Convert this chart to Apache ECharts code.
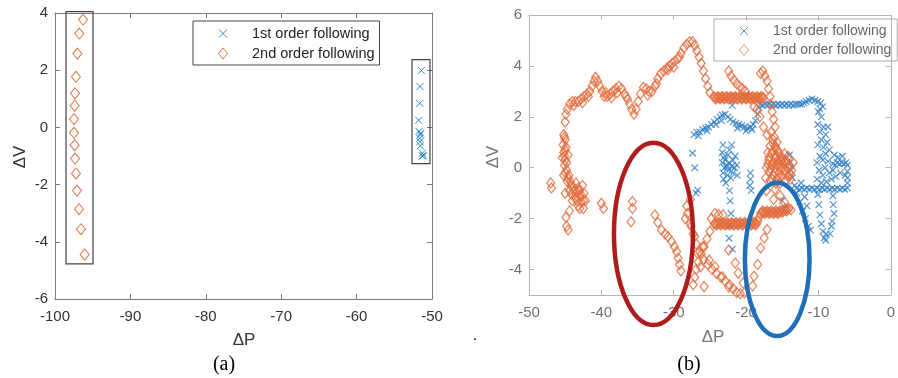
<!DOCTYPE html>
<html><head><meta charset="utf-8">
<script src="https://cdn.jsdelivr.net/npm/echarts@6/dist/echarts.min.js"></script>
<style>html,body{margin:0;padding:0;background:#fff}#c{width:898px;height:378px}</style>
</head><body><div id="c"></div>
<script>
const seriesNames = ['1st order following', '2nd order following'];
const aXTicks = [-100, -90, -80, -70, -60, -50];
const aYTicks = [-6, -4, -2, 0, 2, 4];
const bXTicks = [-50, -40, -30, -20, -10, 0];
const bYTicks = [-4, -2, 0, 2, 4, 6];

// (a) 1st order following (crosses)
const aFirst = [[-51.41,1.99],[-51.59,1.43],[-51.63,0.84],[-51.77,0.25],[-51.72,-0.14],[-51.55,-0.26],[-51.63,-0.38],[-51.5,-0.2],[-51.55,-0.64],[-51.6,-0.5],[-51.28,-0.90],[-51.15,-0.99],[-51.3,-1.0]];
// (a) 2nd order following (diamonds)
const aSecond = [[-96.29,3.77],[-96.78,3.28],[-97.04,2.58],[-97.22,1.77],[-97.35,1.19],[-97.39,0.76],[-97.48,0.29],[-97.48,-0.19],[-97.39,-0.62],[-97.35,-1.09],[-97.22,-1.61],[-97.08,-2.21],[-96.82,-2.86],[-96.55,-3.56],[-96.07,-4.44]];

// (b) 1st order following (crosses)
const bFirst = [
[-27.2,1.3],[-26.8,1.4],[-26.4,1.4],[-26.0,1.5],[-25.6,1.55],[-25.2,1.6],[-24.8,1.7],[-24.4,1.8],[-24.0,1.9],[-23.6,2.0],[-23.3,2.07],[-22.9,2.1],[-22.5,2.0],[-22.2,1.9],[-21.8,1.8],[-21.4,1.75],[-21.0,1.7],[-20.6,1.65],[-20.2,1.6],[-19.8,1.55],[-19.4,1.6],[-19.0,1.7],[-18.7,1.85],[-18.4,2.1],[-18.2,2.35],[-21.9,2.45],[-26.6,1.25],[-25.4,1.45],[-24.2,1.7],[-23.4,1.85],[-21.2,1.55],[-20.0,1.45],[-19.2,1.5],
[-18.0,2.5],[-17.7,2.45],[-17.4,2.5],[-17.1,2.45],[-16.8,2.5],[-16.5,2.45],[-16.2,2.5],[-15.9,2.45],[-15.6,2.5],[-15.3,2.45],[-15.0,2.5],[-14.7,2.45],[-14.4,2.5],[-14.1,2.45],[-13.8,2.5],[-13.5,2.45],[-13.2,2.5],[-12.9,2.5],[-12.6,2.5],[-12.3,2.5],[-12.0,2.55],
[-11.7,2.6],[-11.3,2.65],[-10.9,2.7],[-10.5,2.65],[-10.1,2.6],[-9.7,2.55],[-9.4,2.4],[-9.8,2.3],
[-10.0,2.2],[-9.6,2.0],[-10.1,1.7],[-9.3,1.6],[-9.8,1.4],[-9.0,1.3],[-9.6,1.1],[-8.8,1.0],[-10.1,0.9],[-9.3,0.8],[-8.7,1.6],[-8.5,0.7],[-9.0,0.55],[-9.8,0.45],[-10.2,0.2],[-9.4,0.3],[-8.7,0.25],[-9.1,0.0],[-9.9,-0.1],[-8.5,-0.2],[-9.4,-0.3],[-10.2,-0.45],[-8.2,-0.45],[-8.9,-0.55],[-9.6,-0.6],
[-8.0,0.15],[-7.7,0.1],[-7.4,0.2],[-7.1,0.15],[-6.8,0.2],[-6.5,0.15],[-6.2,0.2],[-6.0,0.1],
[-6.0,-0.15],[-6.0,-0.4],[-6.0,-0.6],[-6.3,-0.3],[-7.0,-0.2],[-7.6,-0.35],[-8.0,-0.1],[-7.3,0.4],[-6.7,0.45],[-7.8,0.5],
[-13.0,-0.8],[-12.65,-0.85],[-12.3,-0.8],[-11.95,-0.85],[-11.6,-0.8],[-11.25,-0.85],[-10.9,-0.8],[-10.55,-0.85],[-10.2,-0.8],[-9.85,-0.85],[-9.5,-0.8],[-9.15,-0.85],[-8.8,-0.8],[-8.45,-0.85],[-8.1,-0.8],[-7.75,-0.85],[-7.4,-0.8],[-7.05,-0.85],[-6.7,-0.8],[-6.35,-0.85],[-6.0,-0.8],
[-10.1,-1.05],[-9.95,-1.45],[-9.8,-1.85],[-9.6,-2.2],[-9.4,-2.5],[-9.2,-2.75],[-9.0,-2.85],[-8.9,-2.6],[-8.0,-1.1],[-7.95,-1.45],[-7.85,-1.8],[-8.1,-2.1],[-8.2,-2.3],[-8.4,-2.6],
[-14.0,0.5],[-13.9,0.2],[-13.8,-0.1],[-13.6,-0.4],[-13.3,-0.7],[-13.0,-1.0],[-12.6,-1.35],[-12.2,-1.7],[-11.8,-2.0],[-11.4,-2.3],[-11.1,-2.45],[-11.9,-1.15],[-11.6,-1.5],[-12.4,-0.6],
[-23.2,0.9],[-23.3,0.6],[-23.1,0.4],[-23.3,0.2],[-23.0,0.0],[-23.2,-0.2],[-23.1,-0.45],[-22.7,0.1],[-22.4,-0.1],[-22.6,-0.3],[-22.3,0.2],[-22.0,0.05],[-21.8,0.3],[-21.5,0.45],[-21.3,0.1],[-22.1,-0.4],[-21.8,-0.2],[-22.0,0.9],[-22.3,0.7],[-21.6,0.0],[-22.8,-0.6],[-22.5,0.5],[-21.2,-0.3],[-22.9,0.3],[-22.6,0.05],
[-22.3,-0.9],[-22.2,-1.3],[-22.1,-1.8],[-22.3,-2.3],[-22.35,-2.77],[-21.9,-3.2],
[-27.4,0.57],[-27.1,0.0],[-26.7,-0.88],[-26.9,-1.0],
[-19.4,-0.2],[-19.4,-0.45],[-19.5,-0.7],[-19.3,-0.9],
[-15.0,-1.3],[-14.6,-1.6]
];

// (b) 2nd order following (diamonds)
const bSecond = [
[-45.0,1.8],[-44.9,2.1],[-44.7,2.3],[-44.4,2.5],[-44.0,2.6],[-43.6,2.6],[-43.2,2.6],[-42.8,2.7],[-42.4,2.8],[-42.0,2.9],[-41.6,3.0],[-41.3,3.2],[-41.0,3.4],[-40.8,3.55],[-40.5,3.4],[-40.2,3.2],[-39.9,3.0],[-39.6,2.8],[-39.2,2.8],[-38.8,2.9],[-38.4,3.0],[-38.0,3.1],[-37.6,3.2],[-37.2,3.1],[-36.8,2.9],[-36.4,2.7],[-36.1,2.5],[-35.8,2.3],[-35.5,2.1],[-35.2,2.3],[-34.9,2.6],[-34.6,2.9],[-34.2,3.15],[-33.8,3.1],[-33.4,3.0],[-33.0,3.0],[-32.6,3.2],[-32.2,3.5],[-31.8,3.7],[-31.4,3.8],[-31.0,3.9],[-30.6,4.0],[-30.2,4.1],[-29.8,4.2],[-29.4,4.3],[-29.0,4.5],[-28.6,4.7],[-28.2,4.85],[-27.8,4.95],[-27.4,4.95],[-27.1,4.8],[-26.8,4.6],[-26.5,4.35],[-26.2,4.1],[-25.9,3.8],[-25.6,3.5],[-25.3,3.2],[-25.0,2.95],
[-43.8,2.45],[-42.6,2.55],[-41.8,2.8],[-39.4,2.95],[-38.6,2.75],[-37.8,2.95],[-36.6,2.8],[-33.6,2.85],[-32.4,3.3],[-30.8,3.85],[-30.0,3.95],[-29.2,4.35],
[-24.5,2.8],[-24.2,2.7],[-23.9,2.8],[-23.6,2.7],[-23.3,2.8],[-23.0,2.7],[-22.7,2.8],[-22.4,2.7],[-22.1,2.8],[-21.8,2.7],[-21.5,2.8],[-21.2,2.7],[-20.9,2.8],[-20.6,2.7],[-20.3,2.8],[-20.0,2.7],[-19.7,2.8],[-19.4,2.7],[-19.1,2.8],[-18.8,2.7],[-18.5,2.8],[-18.2,2.7],[-17.9,2.8],[-17.6,2.75],
[-24.35,2.75],[-24.05,2.75],[-23.75,2.75],[-23.45,2.75],[-23.15,2.75],[-22.85,2.75],[-22.55,2.75],[-22.25,2.75],[-21.95,2.75],[-21.65,2.75],[-21.35,2.75],[-21.05,2.75],[-20.75,2.75],[-20.45,2.75],[-20.15,2.75],[-19.85,2.75],[-19.55,2.75],[-19.25,2.75],[-18.95,2.75],[-18.65,2.75],[-18.35,2.75],[-18.05,2.75],[-17.75,2.75],
[-22.4,3.8],[-22.1,3.6],[-21.7,3.45],[-21.3,3.3],[-20.9,3.2],[-20.5,3.1],[-20.1,3.0],
[-18.0,3.7],[-17.7,3.8],[-17.4,3.6],[-17.1,3.4],[-16.9,3.1],[-16.7,2.8],[-16.6,2.5],[-16.4,2.2],[-16.2,1.9],[-16.0,1.6],
[-18.9,2.4],[-18.5,2.3],[-18.1,2.0],[-17.6,1.6],[-17.1,1.3],
[-16.5,1.4],[-16.1,1.2],[-15.7,1.0],[-16.3,0.95],[-15.9,0.75],[-15.5,0.6],[-16.5,0.55],[-16.1,0.4],[-15.6,0.3],[-16.9,0.3],[-16.5,0.1],[-16.0,0.0],[-15.4,0.05],[-14.9,0.15],[-14.4,0.2],[-14.0,0.1],[-13.7,-0.1],[-14.2,-0.3],[-14.7,-0.25],[-15.2,-0.35],[-15.7,-0.4],[-16.3,-0.3],[-16.8,-0.15],[-17.2,0.0],[-17.0,0.6],[-16.7,0.85],[-15.2,0.4],[-14.7,0.55],[-14.2,0.45],[-15.0,-0.05],[-15.9,-0.6],[-15.3,-0.6],[-13.5,0.2],[-13.9,-0.45],[-17.3,-0.4],[-16.7,-0.5],[-14.5,-0.5],
[-16.3,1.1],[-16.0,0.85],[-15.7,0.7],[-16.3,0.65],[-15.8,0.45],[-16.3,0.2],[-15.8,0.15],[-15.1,0.25],[-14.6,0.3],[-14.2,0.0],[-14.6,-0.1],[-15.4,-0.2],[-16.0,-0.2],[-16.6,-0.05],[-17.0,0.15],[-16.8,0.4],[-14.9,0.35],[-15.5,0.15],[-13.9,-0.25],[-16.4,-0.45],
[-16.0,-0.85],[-17.2,-0.9],[-16.2,-1.25],[-15.3,-1.1],[-14.7,-1.35],
[-18.0,-1.8],[-17.7,-1.7],[-17.4,-1.8],[-17.1,-1.7],[-16.8,-1.8],[-16.5,-1.7],[-16.2,-1.8],[-15.9,-1.7],[-15.6,-1.8],[-15.3,-1.7],[-15.0,-1.75],[-14.7,-1.65],[-14.4,-1.7],[-14.1,-1.6],[-13.8,-1.65],
[-17.85,-1.75],[-17.55,-1.75],[-17.25,-1.75],[-16.95,-1.75],[-16.65,-1.75],[-16.35,-1.75],[-16.05,-1.75],[-15.75,-1.75],[-15.45,-1.75],[-15.15,-1.7],[-14.85,-1.7],[-14.55,-1.65],[-14.25,-1.65],
[-24.4,-2.2],[-24.1,-2.25],[-23.8,-2.15],[-23.5,-2.25],[-23.2,-2.15],[-22.9,-2.25],[-22.6,-2.15],[-22.3,-2.25],[-22.0,-2.15],[-21.7,-2.25],[-21.4,-2.15],[-21.1,-2.25],[-20.8,-2.15],[-20.5,-2.25],[-20.2,-2.15],[-19.9,-2.25],[-19.6,-2.15],[-19.3,-2.25],[-19.0,-2.15],[-18.7,-2.25],[-18.4,-2.1],[-18.2,-1.95],
[-24.25,-2.2],[-23.95,-2.2],[-23.65,-2.2],[-23.35,-2.2],[-23.05,-2.2],[-22.75,-2.2],[-22.45,-2.2],[-22.15,-2.2],[-21.85,-2.2],[-21.55,-2.2],[-21.25,-2.2],[-20.95,-2.2],[-20.65,-2.2],[-20.35,-2.2],[-20.05,-2.2],[-19.75,-2.2],[-19.45,-2.2],[-19.15,-2.2],[-18.85,-2.2],[-18.55,-2.2],
[-24.3,-1.8],[-23.8,-1.85],[-23.2,-1.85],[-24.8,-2.0],
[-19.1,-4.65],[-18.9,-4.26],[-18.4,-3.8],[-18.0,-3.15],[-17.5,-2.76],[-17.1,-2.43],
[-28.1,-1.8],[-27.7,-2.2],[-27.3,-2.6],[-26.9,-3.0],[-26.4,-3.3],[-25.9,-3.6],[-25.3,-3.8],[-24.7,-4.0],[-24.1,-4.15],[-23.5,-4.3],[-22.9,-4.45],[-22.3,-4.6],[-21.8,-4.75],[-21.3,-4.9],[-20.8,-4.95],
[-25.0,-2.5],[-25.4,-2.8],[-25.8,-3.1],[-26.2,-3.4],[-26.6,-3.7],[-26.9,-4.0],[-27.1,-4.3],[-27.3,-4.6],
[-27.7,-1.25],[-28.2,-1.5],[-28.4,-2.0],[-27.6,-2.3],[-27.1,-2.7],[-26.7,-3.36],[-26.3,-3.9],[-25.8,-4.67],
[-22.4,-3.23],[-21.5,-3.74],[-21.1,-4.14],[-20.4,-4.53],[-20.2,-4.92],
[-26.0,-3.1],[-25.1,-3.63],[-24.3,-3.89],[-23.3,-4.28],[-22.4,-4.68],
[-35.7,-1.33],[-35.7,-1.6],[-35.9,-2.12],
[-32.6,-1.86],[-32.2,-2.15],[-31.7,-2.45],[-31.2,-2.6],[-30.8,-2.7],[-30.3,-2.9],[-29.9,-3.1],[-29.6,-3.3],[-29.4,-3.55],[-29.2,-3.8],[-29.0,-4.05],
[-45.2,1.3],[-45.0,1.1],[-45.3,0.9],[-44.9,0.8],[-45.2,0.6],[-45.4,0.4],[-45.0,0.3],[-44.6,0.5],[-45.1,0.1],[-44.8,-0.1],[-45.2,-0.3],[-44.5,-0.3],[-44.7,-0.55],[-44.2,-0.7],[-44.4,-0.9],[-43.8,-0.9],[-43.5,-0.6],[-43.2,-0.8],[-43.6,-1.15],[-43.0,-1.1],[-42.6,-0.7],[-42.4,-1.0],[-42.8,-1.35],[-42.2,-1.3],[-43.2,-1.5],[-42.5,-1.6],[-44.0,-1.3],[-43.0,-1.6],
[-45.1,1.2],[-45.0,0.7],[-45.1,0.45],[-44.8,0.2],[-45.0,-0.2],[-44.6,-0.4],[-44.3,-0.55],[-43.9,-0.75],[-43.4,-0.95],[-43.0,-0.9],[-42.7,-1.1],[-43.4,-1.3],[-42.5,-1.3],[-44.1,-1.05],
[-47.0,-0.6],[-46.9,-0.8],[-45.0,-1.0],[-44.4,-1.7],[-44.9,-1.95],[-44.6,-2.45],[-44.8,-2.3],[-40.0,-1.4],[-39.7,-1.6]
];

// annotation shapes in data units
const aBoxes = [[[-98.54, 4.05], [-94.96, -4.77]], [[-52.65, 2.37], [-50.27, -1.27]]];
const bEllipseCenters = [[-32.8, -2.6], [-15.7, -3.6]];
const bEllipseRadii = [[5.46, 3.58], [4.47, 3.01]];

const BLUE = '#0072BD', ORANGE = '#D95319';
const ellipseColors = ['#b01c1c', '#1f6fb8'];
const crossPath = 'path://M0,0L10,10M10,0L0,10';
const crossLegend = 'path://M-1.5,-1.5M9.5,9.5M0,0L8,8M8,0L0,8';
const diamondLegend = 'path://M4.5,0L9,5.5L4.5,11L0,5.5Z';

const chart = echarts.init(document.getElementById('c'), null, {renderer: 'canvas'});

function xAx(grid, min, max, pos, show, lineC, labC) {
  return {gridIndex: grid, type: 'value', min: min, max: max, interval: 10, position: pos,
    axisLine: {show: true, onZero: false, lineStyle: {color: lineC, width: 1}},
    axisTick: {show: true, inside: true, length: 5, lineStyle: {color: lineC}},
    axisLabel: {show: show, color: labC, fontSize: 15, fontFamily: 'Liberation Sans', margin: 10},
    splitLine: {show: false}};
}
function yAx(grid, min, max, pos, show, lineC, labC, custom) {
  const ax = {gridIndex: grid, type: 'value', min: min, max: max, position: pos,
    axisLine: {show: true, onZero: false, lineStyle: {color: lineC, width: 1}},
    axisTick: {show: true, inside: true, length: 5, lineStyle: {color: lineC}},
    axisLabel: {show: show, color: labC, fontSize: 15, fontFamily: 'Liberation Sans', margin: 7},
    splitLine: {show: false}};
  if (custom) { ax.axisLabel.customValues = custom; ax.axisTick.customValues = custom; }
  else { ax.interval = 2; }
  return ax;
}

const aLine = '#7a7a7a', aLab = '#333';
const bLine = '#b5b5b5', bLab = '#707070';

const option = {
  animation: false,
  backgroundColor: '#fff',
  grid: [
    {left: 55, top: 13, width: 377, height: 286},
    {left: 529, top: 15, width: 367, height: 280}
  ],
  xAxis: [
    xAx(0, aXTicks[0], aXTicks[aXTicks.length - 1], 'bottom', true, aLine, aLab),
    xAx(0, aXTicks[0], aXTicks[aXTicks.length - 1], 'top', false, aLine, aLab),
    xAx(1, bXTicks[0], bXTicks[bXTicks.length - 1], 'bottom', true, bLine, bLab),
    xAx(1, bXTicks[0], bXTicks[bXTicks.length - 1], 'top', false, bLine, bLab)
  ],
  yAxis: [
    yAx(0, aYTicks[0], aYTicks[aYTicks.length - 1], 'left', true, aLine, aLab),
    yAx(0, aYTicks[0], aYTicks[aYTicks.length - 1], 'right', false, aLine, aLab),
    yAx(1, -5, 6, 'left', true, bLine, bLab, bYTicks),
    yAx(1, -5, 6, 'right', false, bLine, bLab, bYTicks)
  ],
  legend: [
    {orient: 'vertical', left: 193, top: 21, padding: [5, 5, 4, 24], itemWidth: 48, itemHeight: 11, itemGap: 5,
     borderColor: '#444', borderWidth: 1, selectedMode: false,
     textStyle: {fontSize: 14.5, color: '#222', fontFamily: 'Liberation Sans'},
     data: [
       {name: seriesNames[0], icon: crossLegend, itemStyle: {color: 'transparent', borderColor: BLUE, borderWidth: 1}},
       {name: seriesNames[1], icon: diamondLegend, itemStyle: {color: 'transparent', borderColor: ORANGE, borderWidth: 1}}
     ]},
    {orient: 'vertical', left: 714, top: 19, padding: [5, 6, 4, 24], itemWidth: 48, itemHeight: 11, itemGap: 5,
     borderColor: '#aaa', borderWidth: 1, selectedMode: false,
     textStyle: {fontSize: 14, color: '#666', fontFamily: 'Liberation Sans'},
     data: [
       {name: seriesNames[0], icon: crossLegend, itemStyle: {color: 'transparent', borderColor: '#3a86c8', borderWidth: 1}},
       {name: seriesNames[1], icon: diamondLegend, itemStyle: {color: 'transparent', borderColor: '#e67a50', borderWidth: 1}}
     ]}
  ],
  series: [
    {name: seriesNames[0], type: 'scatter', xAxisIndex: 0, yAxisIndex: 0, data: aFirst, symbol: crossPath, symbolSize: 7,
     itemStyle: {color: 'transparent', borderColor: BLUE, borderWidth: 1}, emphasis: {disabled: true}},
    {name: seriesNames[1], type: 'scatter', xAxisIndex: 0, yAxisIndex: 0, data: aSecond, symbol: 'diamond', symbolSize: [9, 11],
     itemStyle: {color: 'transparent', borderColor: ORANGE, borderWidth: 1}, emphasis: {disabled: true}},
    {name: seriesNames[0], type: 'scatter', xAxisIndex: 2, yAxisIndex: 2, data: bFirst, symbol: crossPath, symbolSize: 6.5,
     itemStyle: {color: 'transparent', borderColor: '#2a7cc4', borderWidth: 1.2}, emphasis: {disabled: true}},
    {name: seriesNames[1], type: 'scatter', xAxisIndex: 2, yAxisIndex: 2, data: bSecond, symbol: 'diamond', symbolSize: [8, 10],
     itemStyle: {color: 'transparent', borderColor: '#e26c3c', borderWidth: 1.3}, emphasis: {disabled: true}}
  ]
};
chart.setOption(option);

// annotations placed through the axes' own conversions
const graphics = [];
aBoxes.forEach(function (b) {
  const p0 = chart.convertToPixel({xAxisIndex: 0, yAxisIndex: 0}, b[0]);
  const p1 = chart.convertToPixel({xAxisIndex: 0, yAxisIndex: 0}, b[1]);
  graphics.push({type: 'rect', z: 100, shape: {x: p0[0], y: p0[1], width: p1[0] - p0[0], height: p1[1] - p0[1]},
    style: {fill: 'none', stroke: '#444', lineWidth: 1.2}});
});
bEllipseCenters.forEach(function (c, i) {
  const pc = chart.convertToPixel({xAxisIndex: 2, yAxisIndex: 2}, c);
  const pr = chart.convertToPixel({xAxisIndex: 2, yAxisIndex: 2}, [c[0] + bEllipseRadii[i][0], c[1] + bEllipseRadii[i][1]]);
  graphics.push({type: 'ellipse', z: 100, shape: {cx: pc[0], cy: pc[1], rx: Math.abs(pr[0] - pc[0]), ry: Math.abs(pc[1] - pr[1])},
    style: {fill: 'none', stroke: ellipseColors[i], lineWidth: 4.5}});
});
const txt = function (t, x, y, size, color, fam, rot) {
  return {type: 'text', z: 100, x: x, y: y, rotation: rot || 0,
    style: {text: t, fontSize: size, fill: color, fontFamily: fam, align: 'center', verticalAlign: 'middle'}};
};
graphics.push(txt('ΔV', 20, 157, 17, '#333', 'Liberation Sans', Math.PI / 2));
graphics.push(txt('ΔP', 244, 340, 17, '#333', 'Liberation Sans'));
graphics.push(txt('(a)', 224, 365, 20, '#000', 'Liberation Serif'));
graphics.push(txt('ΔV', 493, 157, 17, '#777', 'Liberation Sans', Math.PI / 2));
graphics.push(txt('ΔP', 713, 337, 17, '#777', 'Liberation Sans'));
graphics.push(txt('(b)', 689, 365, 20, '#000', 'Liberation Serif'));
graphics.push(txt('.', 475, 336, 16, '#000', 'Liberation Sans'));
chart.setOption({graphic: {elements: graphics}});
</script>
</body></html>
